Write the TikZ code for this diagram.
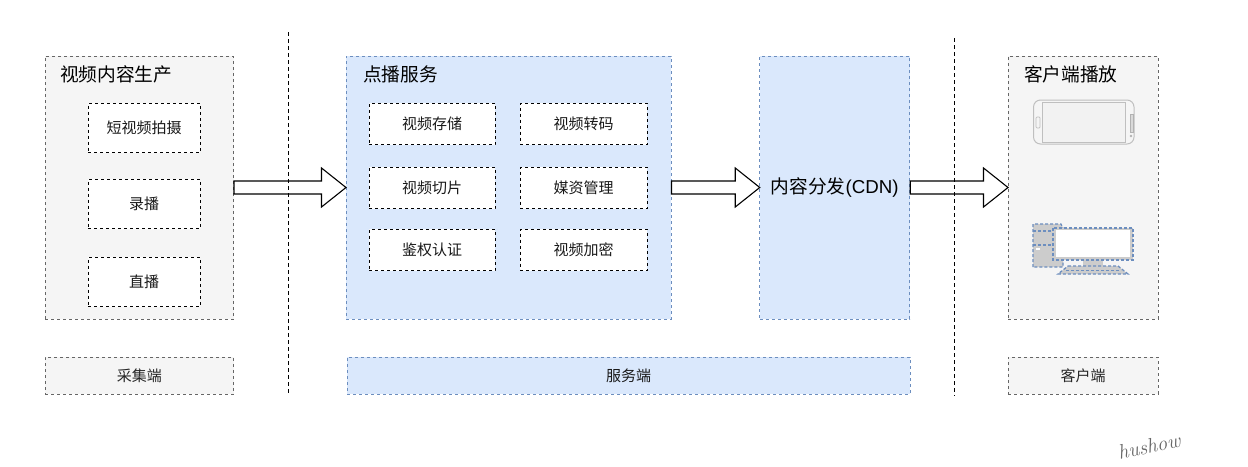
\documentclass[tikz,border=0pt]{standalone}
\usepackage{fontspec}
\setmainfont{Noto Sans CJK SC}
\newfontfamily\latinf{Liberation Sans}
\newfontfamily\markf{Latin Modern Roman}
\newcommand{\lowr}[1]{\raisebox{-1.6pt}{#1}}
\newcommand{\lowb}[1]{\raisebox{-0.3pt}{#1}}
\begin{document}
\begin{tikzpicture}[x=1pt,y=-1pt,
  every node/.style={inner sep=0pt,outer sep=0pt},
  dashline/.style={dash pattern=on 3pt off 3pt,line width=1pt},
  greybox/.style={draw=black!60,fill=black!4,dashline,text=black!85},
  bluebox/.style={draw=blue1,fill=blue2,dashline,text=black!90},
  innerbox/.style={draw=black,fill=white,dashline,font=\fontsize{15}{16}\selectfont,text=black!90},
  bottomtext/.style={font=\fontsize{15}{16}\selectfont},
  titletext/.style={font=\fontsize{18.7}{20}\selectfont,text=black,anchor=west},
  divider/.style={draw=black,line width=0.9pt,dash pattern=on 3.5pt off 3.5pt},
  blockarrow/.style={draw=black,fill=white,line width=1.1pt,line join=miter},
  phone/.style={draw=black!25,fill=black!4,line width=1pt},
  pcline/.style={draw=blue1,fill=black!20,line width=1.3pt,dash pattern=on 3pt off 2pt},
]
\definecolor{blue1}{HTML}{6C8EBF}
\definecolor{blue2}{HTML}{DAE8FC}
\useasboundingbox (0,0) rectangle (1248,466);
\fill[white] (0,0) rectangle (1248,466);
% containers
\node[greybox,minimum width=188.5pt,minimum height=263pt] (prod) at (139.25,187.5) {};
\node[bluebox,minimum width=325pt,minimum height=263pt] (svc) at (508.5,187.5) {};
\node[bluebox,minimum width=150pt,minimum height=263pt,font=\fontsize{18.7}{20}\selectfont,text=black] (cdn) at (834.75,187.5) {\raisebox{-1.5pt}{内容分发{\latinf(CDN)}}};
\node[greybox,minimum width=150pt,minimum height=263pt] (client) at (1083,187.5) {};

% titles
\node[titletext] (t1) at (60,74.5) {视频内容生产};
\node[titletext] (t2) at (363,74.5) {点播服务};
\node[titletext] (t3) at (1024,74.5) {客户端播放};

% production
\node[innerbox,minimum width=112pt,minimum height=49.5pt] (p1) at (144,127.75) {\lowr{短视频拍摄}};
\node[innerbox,minimum width=112pt,minimum height=49.5pt] (p2) at (144,203.75) {\lowr{录播}};
\node[innerbox,minimum width=112pt,minimum height=49.5pt] (p3) at (144,281.75) {\lowr{直播}};

% service
\node[innerbox,minimum width=126pt,minimum height=41.5pt] (s1) at (432,123.75) {\lowr{视频存储}};
\node[innerbox,minimum width=127pt,minimum height=41.5pt] (s2) at (583.5,123.75) {\lowr{视频转码}};
\node[innerbox,minimum width=126pt,minimum height=41.5pt] (s3) at (432,187.75) {\lowr{视频切片}};
\node[innerbox,minimum width=127pt,minimum height=41.5pt] (s4) at (583.5,187.75) {\lowr{媒资管理}};
\node[innerbox,minimum width=126pt,minimum height=41.5pt] (s5) at (432,249.75) {\lowr{鉴权认证}};
\node[innerbox,minimum width=127pt,minimum height=41.5pt] (s6) at (583.5,249.75) {\lowr{视频加密}};

% bottom bars
\node[greybox,bottomtext,minimum width=188.5pt,minimum height=37pt] (b1) at (139.25,375.5) {\lowb{采集端}};
\node[bluebox,bottomtext,minimum width=563pt,minimum height=37pt] (b2) at (628.5,375.5) {\lowb{服务端}};
\node[greybox,bottomtext,minimum width=150pt,minimum height=37pt] (b3) at (1083,375.5) {\lowb{客户端}};

% block arrows
\def\blockarr#1#2{%
  \draw[blockarrow] ([shift={(0.5,-6.5)}]#1.east) -- ([shift={(-24.5,-6.5)}]#2.west) -- ([shift={(-24.5,-19.5)}]#2.west)
    -- (#2.west) -- ([shift={(-24.5,19.5)}]#2.west) -- ([shift={(-24.5,6.5)}]#2.west) -- ([shift={(0.5,6.5)}]#1.east) -- cycle;}
\blockarr{prod}{svc}
\blockarr{svc}{cdn}
\blockarr{cdn}{client}

% dividers
\coordinate (d1a) at (288.5,32); \coordinate (d1b) at (288.5,396);
\coordinate (d2a) at (954.5,38); \coordinate (d2b) at (954.5,396);
\draw[divider] (d1a) -- (d1b);
\draw[divider] (d2a) -- (d2b);

% phone
\draw[phone,rounded corners=7pt] (1033.5,100) rectangle (1134,144);
\draw[phone,fill=black!5] (1042,102) rectangle (1125,142.5);
\draw[phone,line width=.7pt,rounded corners=1pt] (1036,117) rectangle (1040,128);
\draw[draw=black!30,fill=black!15,line width=.6pt] (1130.5,114) rectangle (1133,132);
\fill[black!30] (1131,136) circle (1.3pt);

% desktop
\draw[pcline] (1033,267) -- (1033,224) -- (1061,224) -- (1063,228) -- (1063,267) -- cycle;
\draw[pcline,fill=none] (1033,231) -- (1053,231);
\draw[pcline,fill=none] (1033,245) -- (1053,245);
\fill[white] (1036,247.5) rectangle (1040,250);
\fill[black!20] (1083,260) rectangle (1103,266);
\draw[pcline] (1053,228) rectangle (1133,260);
\fill[white] (1056,230) rectangle (1129.5,257);
\draw[pcline] (1068,266) -- (1118,266) -- (1128,274) -- (1058,274) -- cycle;
\draw[blue1,line width=.9pt,dash pattern=on 3pt off 2pt] (1066,270) -- (1121,270);

% watermark
\node[font=\fontsize{20.5}{24}\selectfont,text=black!60,rotate=12] (mark) at (1149,446) {\markf\itshape hushow};
\end{tikzpicture}
\end{document}
